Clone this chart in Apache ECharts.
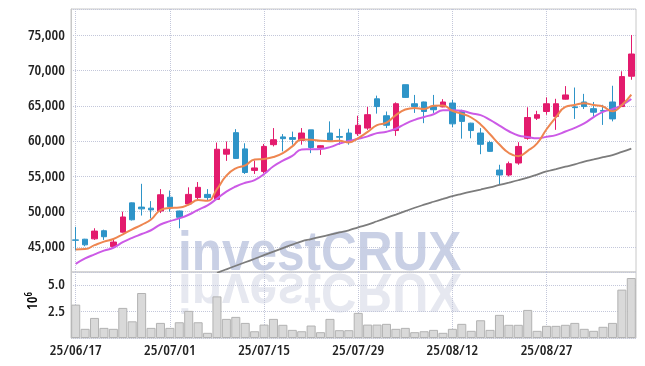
<!DOCTYPE html>
<html><head><meta charset="utf-8">
<script src="https://cdn.jsdelivr.net/npm/echarts@6/dist/echarts.min.js"></script>
<style>html,body{margin:0;padding:0;background:#fff}#c{width:645px;height:366px}</style>
</head><body><div id="c"></div>
<script>
const dates = ['25/06/17','25/06/18','25/06/19','25/06/20','25/06/23','25/06/24','25/06/25','25/06/26','25/06/27','25/06/30',
'25/07/01','25/07/02','25/07/03','25/07/04','25/07/07','25/07/08','25/07/09','25/07/10','25/07/11','25/07/14',
'25/07/15','25/07/16','25/07/17','25/07/18','25/07/21','25/07/22','25/07/23','25/07/24','25/07/25','25/07/28',
'25/07/29','25/07/30','25/07/31','25/08/01','25/08/04','25/08/05','25/08/06','25/08/07','25/08/08','25/08/11',
'25/08/12','25/08/13','25/08/14','25/08/18','25/08/19','25/08/20','25/08/21','25/08/22','25/08/25','25/08/26',
'25/08/27','25/08/28','25/08/29','25/09/01','25/09/02','25/09/03','25/09/04','25/09/05','25/09/08','25/09/09'];
const opens = [46000,46100,46150,47300,45050,47100,51250,50650,50500,50100,
52050,50100,51100,52000,52450,51750,58150,61200,58900,55850,
55700,59500,60600,60500,60100,61600,59050,61150,60650,61150,
61050,61850,66000,63600,61500,68000,65300,65550,64900,64850,
65400,64200,62550,61150,59800,55900,55200,56900,60400,63250,
64200,63500,65950,64850,65550,64600,64350,65550,64900,69200];
const closes = [45950,45300,47250,46450,45700,49250,48850,50400,50250,52400,
50700,49200,52450,53450,52000,58850,58850,57550,55550,56200,
59250,60200,60350,60250,61150,59100,59350,60100,60550,59950,
62250,63750,64900,62250,65300,66200,64900,64200,64450,65550,
62450,62800,61500,59550,58550,55200,56800,59250,63350,63750,
65300,65300,66550,64750,64900,64100,64250,63150,69150,72350];
const lows = [44500,45100,46000,46000,44950,47050,48750,49450,49050,49800,
50000,47650,50900,51650,51650,51700,57200,57500,55350,55350,
55450,59250,58550,59500,59500,58300,58050,60050,59500,59500,
60750,61600,63900,61850,60750,66150,64000,62550,64000,64800,
62000,60350,60400,58150,58500,53800,55000,56650,60200,63000,
63750,61600,65900,63150,64550,63500,62300,62800,64850,68700];
const highs = [47850,46150,47650,47450,46200,50000,51300,53950,51500,53200,
53000,50150,53450,54200,53200,59800,59950,61700,59700,57250,
59600,61850,61000,61350,61850,61600,59400,62800,61750,61750,
63600,64850,66450,64200,65500,68000,66550,65600,66550,65950,
65850,64450,62600,61850,60050,56650,57100,59850,64800,64300,
66200,66000,67800,67600,66700,65550,65150,67850,69900,75050];
// volume in millions (10^6)
const volumes = [3.16,0.87,1.90,0.96,0.87,2.85,1.58,4.26,0.96,1.43,
0.96,1.49,2.57,1.49,0.49,3.94,1.81,2.00,1.43,0.64,
1.27,1.81,1.25,0.77,0.64,1.18,0.55,1.81,0.74,0.74,
2.38,1.27,1.27,1.34,0.87,0.96,0.55,0.64,0.77,0.49,
0.87,1.34,0.68,1.68,0.77,2.19,1.25,1.25,2.66,0.68,
1.15,1.15,1.25,1.43,0.87,0.68,1.06,1.43,4.58,5.68];
const ma5 = [44650,44700,45250,45750,46130,46790,47500,48130,48890,50230,
50520,50590,51000,51640,51560,53190,55120,56140,56560,57400,
57480,57750,58310,59250,60240,60210,60040,59990,60050,59810,
60440,61320,62280,62620,63690,64480,64710,64570,65010,65060,
64310,63890,63350,62370,60970,59520,58320,57870,58630,59670,
61690,63390,64850,65130,65360,65120,64910,64230,65110,66600];
const ma10 = [42600,43370,43950,44480,44890,45680,46290,46830,47370,48180,
48655,49045,49565,50265,50895,51855,52855,53570,54100,54480,
55335,56435,57225,57905,58820,58845,58895,59150,59650,60025,
60325,60680,61135,61335,61750,62460,63015,63425,63815,64375,
64395,64300,63960,63690,63015,62200,61400,60800,60600,60400,
60605,60855,61360,61880,62515,63405,64150,64540,65120,65980];
const ma60 = [null,null,null,null,null,null,null,null,null,null,
null,null,null,null,null,41325,41835,42332,42828,43324,
43835,44331,44842,45338,45806,46118,46430,46742,47054,47366,
47791,48174,48642,49124,49592,50074,50556,50996,51407,51804,
52201,52527,52839,53137,53449,53789,54115,54456,54838,55264,
55703,56030,56370,56710,57107,57405,57717,58029,58469,58936];
const priceRange = [41450, 78730];
const volumeRange = [0, 6.25];
const volumeTicks = 2.5;

const candles = opens.map((o, i) => [o, closes[i], lows[i], highs[i]]);
const UP = '#e31b6d', DOWN = '#2e94c8';
const labelFont = {fontFamily: '"Open Sans"', fontStyle: 'condensed', fontWeight: 600, fontSize: 15, color: '#222'};
const gridLine = {show: true, lineStyle: {type: 'dotted', color: '#c3c7da', width: 1}};

const chart = echarts.init(document.getElementById('c'), null, {renderer: 'canvas'});
chart.setOption({
  animation: false,
  backgroundColor: '#fff',
  grid: [
    {left: 71, right: 9, top: 9, height: 263, show: true, borderColor: '#c8c8c8', borderWidth: 1},
    {left: 71, right: 9, top: 272, height: 66, show: true, borderColor: '#c8c8c8', borderWidth: 1}
  ],
  graphic: [
    {type: 'text', x: 178, y: 272, scaleX: 0.9, z: -10, silent: true,
     style: {text: 'investCRUX', font: 'bold 55px "Liberation Sans"', fill: '#c9d0e5', verticalAlign: 'middle', x: 0, y: -17}},
    {type: 'text', x: 178, y: 272, scaleX: 0.9, scaleY: -1, z: -10, silent: true,
     style: {text: 'investCRUX', font: 'bold 55px "Liberation Sans"', fill: '#e6e8f0', verticalAlign: 'middle', x: 0, y: -17}},
    {type: 'text', x: 33, y: 301, rotation: Math.PI / 2, silent: true,
     style: {text: '{a|10}{b|6}', align: 'center', verticalAlign: 'middle',
       rich: {a: Object.assign({}, labelFont),
              b: Object.assign({}, labelFont, {fontSize: 10, verticalAlign: 'top', padding: [0, 0, 8, 0]})}}}
  ],
  xAxis: [
    {type: 'category', gridIndex: 0, data: dates, boundaryGap: true,
     axisLine: {show: false}, axisTick: {show: false}, axisLabel: {show: false},
     splitLine: Object.assign({interval: 9, alignWithLabel: true}, gridLine)},
    {type: 'category', gridIndex: 1, data: dates, boundaryGap: true,
     axisLine: {show: false}, axisTick: {show: false},
     axisLabel: Object.assign({interval: 9, margin: 5}, labelFont),
     splitLine: Object.assign({interval: 9, alignWithLabel: true}, gridLine)}
  ],
  yAxis: [
    {type: 'value', gridIndex: 0, min: priceRange[0], max: priceRange[1], splitNumber: 7,
     minInterval: 5000, maxInterval: 5000, scale: true,
     axisLine: {show: true, lineStyle: {color: '#c8c8c8'}}, axisTick: {show: false},
     axisLabel: Object.assign({showMinLabel: false, showMaxLabel: false, margin: 6,
       formatter: v => v.toLocaleString('en-US')}, labelFont),
     splitLine: gridLine},
    {type: 'value', gridIndex: 1, min: volumeRange[0], max: volumeRange[1], interval: volumeTicks,
     axisLine: {show: true, lineStyle: {color: '#c8c8c8'}}, axisTick: {show: false},
     axisLabel: Object.assign({showMinLabel: false, showMaxLabel: false, margin: 6,
       formatter: v => v.toFixed(1)}, labelFont),
     splitLine: gridLine}
  ],
  series: [
    {type: 'candlestick', xAxisIndex: 0, yAxisIndex: 0, data: candles, barWidth: 6,
     itemStyle: {color: UP, color0: DOWN, borderColor: UP, borderColor0: DOWN, borderWidth: 1}},
    {type: 'line', xAxisIndex: 0, yAxisIndex: 0, data: ma60, symbol: 'none', smooth: true,
     lineStyle: {color: '#7c7c7c', width: 1.8}, z: 3},
    {type: 'line', xAxisIndex: 0, yAxisIndex: 0, data: ma10, symbol: 'none', smooth: true,
     lineStyle: {color: '#cc5ae6', width: 2}, z: 3},
    {type: 'line', xAxisIndex: 0, yAxisIndex: 0, data: ma5, symbol: 'none', smooth: true,
     lineStyle: {color: '#ee8650', width: 2}, z: 4},
    {type: 'bar', xAxisIndex: 1, yAxisIndex: 1, data: volumes, barCategoryGap: '4%',
     itemStyle: {color: '#d9d9d9', borderColor: '#b2b2b2', borderWidth: 1}}
  ]
});
</script></body></html>
